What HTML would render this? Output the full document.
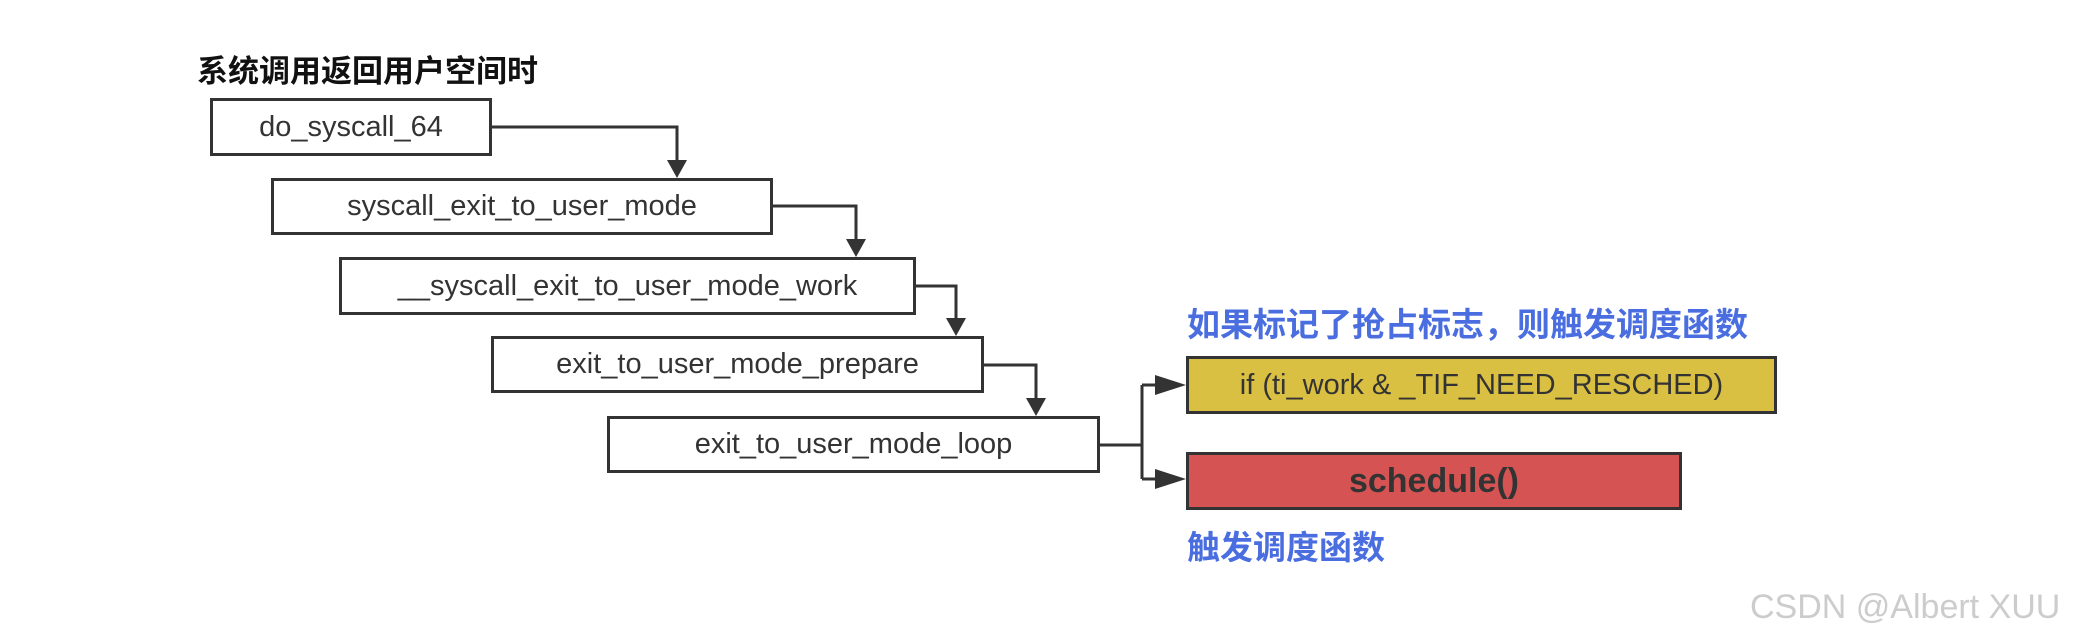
<!DOCTYPE html>
<html><head><meta charset="utf-8"><style>
body{margin:0;width:2089px;height:643px;background:#fff;position:relative;overflow:hidden;font-family:"Liberation Sans","Noto Sans CJK SC",sans-serif}
.b{position:absolute;box-sizing:border-box;border:3px solid #333;background:#fff;display:flex;align-items:center;justify-content:center;font-size:29px;color:#333}
.t{position:absolute;font-weight:bold;white-space:nowrap}
</style></head><body>
<div class="t" style="left:197px;top:46px;font-size:31px;color:#111">系统调用返回用户空间时</div>
<div class="b" style="left:210px;top:98px;width:282px;height:58px">do_syscall_64</div>
<div class="b" style="left:271px;top:178px;width:502px;height:57px">syscall_exit_to_user_mode</div>
<div class="b" style="left:339px;top:257px;width:577px;height:58px">__syscall_exit_to_user_mode_work</div>
<div class="b" style="left:491px;top:336px;width:493px;height:57px">exit_to_user_mode_prepare</div>
<div class="b" style="left:607px;top:416px;width:493px;height:57px">exit_to_user_mode_loop</div>
<div class="t" style="left:1187px;top:298px;font-size:33px;color:#4a6ee0">如果标记了抢占标志，则触发调度函数</div>
<div class="b" style="left:1186px;top:356px;width:591px;height:58px;background:#d9bf42">if (ti_work &amp; _TIF_NEED_RESCHED)</div>
<div class="b" style="left:1186px;top:452px;width:496px;height:58px;background:#d65353;font-weight:bold;font-size:34px">schedule()</div>
<div class="t" style="left:1187px;top:521px;font-size:33px;color:#4a6ee0">触发调度函数</div>
<div class="t" style="left:1750px;top:588px;font-size:34px;color:#ccc;font-weight:normal">CSDN @Albert XUU</div>
<svg width="2089" height="643" style="position:absolute;left:0;top:0" fill="none" stroke="#333" stroke-width="3">
<path d="M492 127H677V165M773 206H856V244M916 286H956V323M984 365H1036V403M1100 445H1142M1142 385V479M1142 385H1160M1142 479H1160"/>
<g fill="#333" stroke="none">
<path d="M667 160L687 160L677 178Z"/><path d="M846 239L866 239L856 257Z"/><path d="M946 318L966 318L956 336Z"/><path d="M1026 398L1046 398L1036 416Z"/>
<path d="M1155 375L1186 385L1155 395Z"/><path d="M1155 469L1186 479L1155 489Z"/></g>
</svg>
</body></html>
